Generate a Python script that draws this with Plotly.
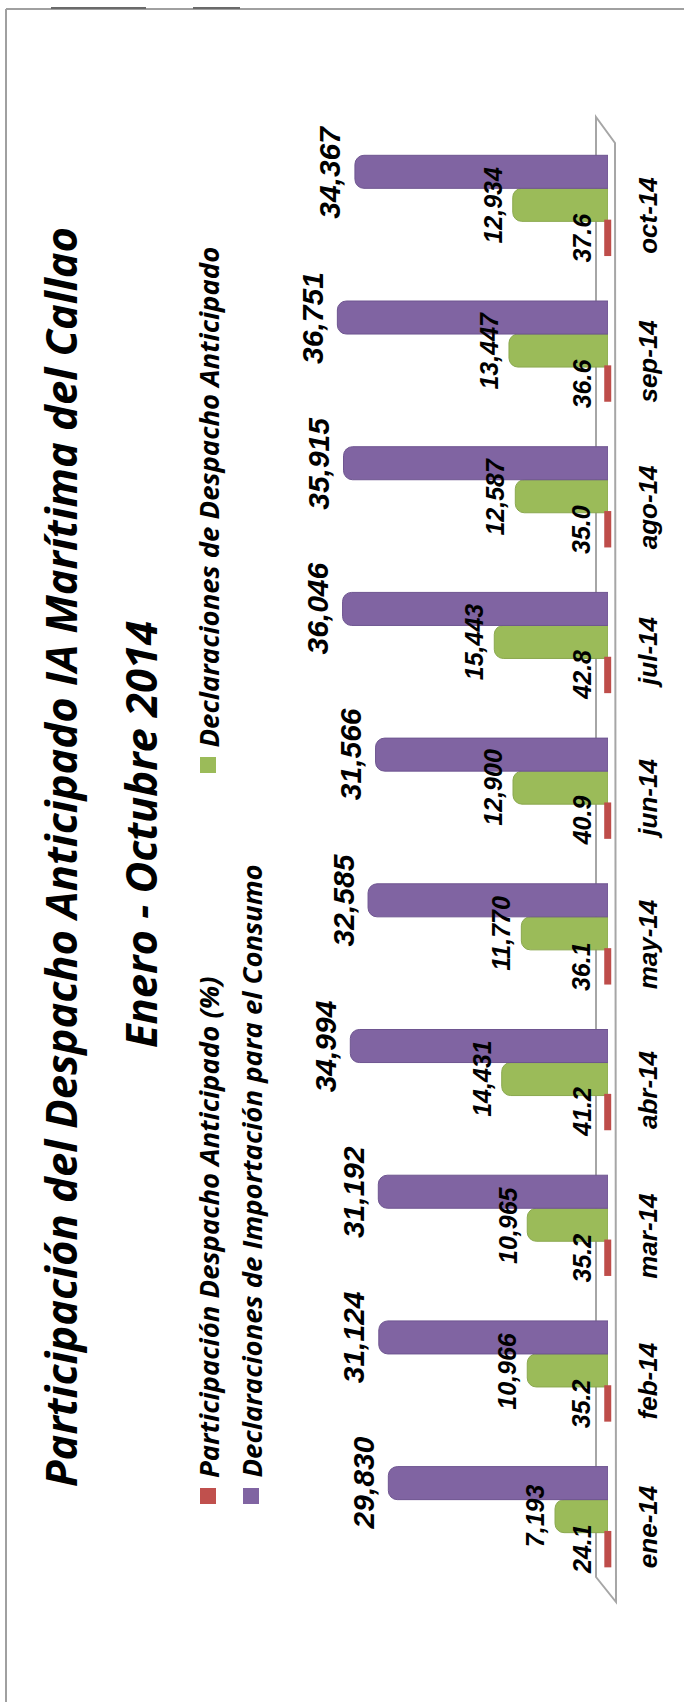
import plotly.graph_objects as go

# ---------------- data ----------------
months = ["ene-14", "feb-14", "mar-14", "abr-14", "may-14",
          "jun-14", "jul-14", "ago-14", "sep-14", "oct-14"]
participacion = [24.1, 35.2, 35.2, 41.2, 36.1, 40.9, 42.8, 35.0, 36.6, 37.6]
despacho_anticipado = [7193, 10966, 10965, 14431, 11770, 12900, 15443, 12587, 13447, 12934]
importacion_consumo = [29830, 31124, 31192, 34994, 32585, 31566, 36046, 35915, 36751, 34367]

series_names = ["Participación Despacho Anticipado (%)",
                "Declaraciones de Importación para el Consumo",
                "Declaraciones de Despacho Anticipado"]
title_line1 = "Participación del Despacho Anticipado IA Marítima del Callao"
title_line2 = "Enero - Octubre 2014"

# ---------------- layout geometry ----------------
W, H = 684, 1702
L, R = 300, 608          # plot area left/right (px)
T, B = 132, 1589         # plot area top/bottom (px)
PX_PER_UNIT = 1 / 135.8
XMAX = (R - L) / PX_PER_UNIT
SLOT = 33                # px between grouped bars
ROW = (B - T) / len(months)
SHIFT = SLOT / ROW       # slot offset in category units

def pxx(x):
    return (x - L) / (R - L)

def pxy(y):
    return (B - y) / (B - T)

RED, GREEN, PURPLE = "#C0504D", "#9BBB59", "#8064A2"

def lab_font(size):
    return dict(family="Liberation Sans, Arial", size=size, color="black",
                weight="bold", style="italic")

fig = go.Figure()

fig.add_trace(go.Bar(
    y=months, x=participacion, orientation="h", name=series_names[0],
    marker=dict(color=RED, line=dict(color=RED, width=2)),
    width=0.19, cliponaxis=False,
))
fig.add_trace(go.Bar(
    y=months, x=despacho_anticipado, orientation="h", name=series_names[2],
    marker=dict(color=GREEN, line=dict(color="#8AA84E", width=1), cornerradius=9),
    cliponaxis=False,
))
fig.add_trace(go.Bar(
    y=months, x=importacion_consumo, orientation="h", name=series_names[1],
    marker=dict(color=PURPLE, line=dict(color="#6E5590", width=1), cornerradius=9),
    cliponaxis=False,
))
# visible caps of the (very short) percentage cylinders, on the red bar slot
fig.add_trace(go.Scatter(
    y=months, x=participacion, yaxis="y2", mode="markers",
    marker=dict(symbol="line-ns", size=26, color=RED,
                line=dict(color="#BE4D4A", width=7)),
    cliponaxis=False, hoverinfo="skip", showlegend=False,
))

annotations = []
# value labels (drawn on top of all bars)
label_sets = [
    (participacion, "{:.1f}", -SLOT, -26, 25),
    (despacho_anticipado, "{:,}", 0, -20, 25),
    (importacion_consumo, "{:,}", SLOT, -25, 30),
]
for vals, fmt, yshift, xshift, size in label_sets:
    for m, v in zip(months, vals):
        annotations.append(dict(
            x=v, y=m, xref="x", yref="y", xshift=xshift, yshift=yshift,
            text=fmt.format(v), showarrow=False, textangle=-90,
            xanchor="center", yanchor="middle", font=lab_font(size)))

# category labels (rotated, right of floor)
for m in months:
    annotations.append(dict(
        x=1, xref="paper", xshift=40, y=m, yref="y", yshift=-11,
        text=m, showarrow=False, textangle=-90,
        xanchor="center", yanchor="middle", font=lab_font(26)))

# title (rotated)
TITLE_FONT = dict(family="Open Sans", size=43.5, color="black", weight="bold", style="italic")
annotations.append(dict(x=pxx(60), y=pxy(857), xref="paper", yref="paper",
                        text=title_line1, showarrow=False, textangle=-90,
                        xanchor="center", yanchor="middle", font=TITLE_FONT))
annotations.append(dict(x=pxx(140), y=pxy(835), xref="paper", yref="paper",
                        text=title_line2, showarrow=False, textangle=-90,
                        xanchor="center", yanchor="middle", font=TITLE_FONT))

# legend (rotated)
LEG_FONT = dict(family="Open Sans", size=27.5, color="black", weight="bold", style="italic")
legend_items = [
    (series_names[0], RED, 208, 1480, 200, 1488),
    (series_names[1], PURPLE, 251, 1480, 243, 1488),
    (series_names[2], GREEN, 208, 750, 200, 757),
]
shapes = []
for name, col, tx, ty, sx, sy in legend_items:
    annotations.append(dict(x=pxx(tx), y=pxy(ty), xref="paper", yref="paper",
                            text=name, showarrow=False, textangle=-90,
                            xanchor="center", yanchor="bottom", font=LEG_FONT))
    shapes.append(dict(type="rect", xref="paper", yref="paper",
                       x0=pxx(sx), x1=pxx(sx + 16), y0=pxy(sy), y1=pxy(sy + 16),
                       fillcolor=col, line=dict(width=0)))

# floor of the 3D chart
floor_col = "#A6A6A6"
shapes.append(dict(type="path", xref="paper", yref="paper", layer="below",
                   path=(f"M {pxx(596)} {pxy(117)} L {pxx(615)} {pxy(143)} "
                         f"L {pxx(616)} {pxy(1602)} L {pxx(596)} {pxy(1577)} Z"),
                   line=dict(color=floor_col, width=2), fillcolor="rgba(0,0,0,0)"))

# outer frame (top and left lines)
frame_col = "#A0A0A0"
shapes.append(dict(type="line", xref="paper", yref="paper",
                   x0=pxx(6), x1=pxx(684), y0=pxy(9), y1=pxy(9),
                   line=dict(color=frame_col, width=2)))
shapes.append(dict(type="line", xref="paper", yref="paper",
                   x0=pxx(6), x1=pxx(6), y0=pxy(9), y1=pxy(1702),
                   line=dict(color=frame_col, width=2)))
for a, b in [(51, 146), (193, 240)]:
    shapes.append(dict(type="line", xref="paper", yref="paper",
                       x0=pxx(a), x1=pxx(b), y0=pxy(8), y1=pxy(8),
                       line=dict(color="#6A6A6A", width=2)))

fig.update_layout(
    width=W, height=H,
    margin=dict(l=L, r=W - R, t=T, b=H - B, pad=0),
    paper_bgcolor="white", plot_bgcolor="rgba(0,0,0,0)",
    barmode="group", bargap=0.32, bargroupgap=0,
    showlegend=False,
    xaxis=dict(range=[XMAX, 0], visible=False, showgrid=False, zeroline=False),
    yaxis=dict(type="category", categoryarray=months, categoryorder="array",
               range=[-0.5, 9.5], showticklabels=False,
               showgrid=False, zeroline=False, ticks=""),
    yaxis2=dict(type="category", categoryarray=months, categoryorder="array",
                overlaying="y", range=[-0.5 + SHIFT, 9.5 + SHIFT], visible=False,
                showgrid=False, zeroline=False),
    annotations=annotations, shapes=shapes,
)

fig.write_html("out.html", config={"displayModeBar": False},
               post_script="document.body.style.margin='0px';")
